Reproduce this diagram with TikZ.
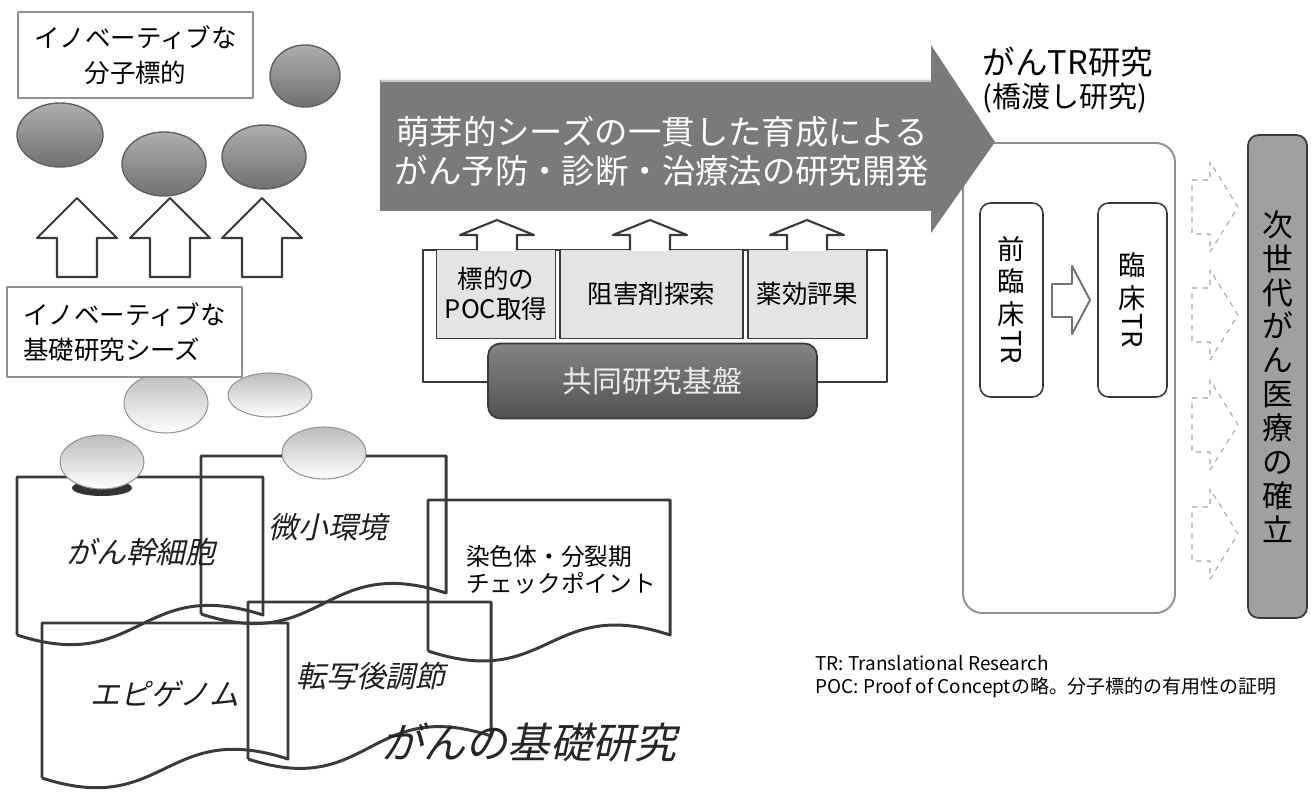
\documentclass[tikz,border=0pt]{standalone}
\usepackage{fontspec}
\setmainfont{Noto Sans CJK JP}
\newfontfamily\jpit{Noto Sans CJK JP}[FakeSlant=0.22]
\usetikzlibrary{arrows.meta,positioning}
\definecolor{InkGray}{RGB}{58,58,58}
\definecolor{RuleGray}{RGB}{145,145,145}
\definecolor{ArrowGray}{RGB}{122,122,122}
\definecolor{PaleGray}{RGB}{228,228,228}
\definecolor{BarGray}{RGB}{160,160,160}

\begin{document}
\begin{tikzpicture}[x=.02cm,y=-.02cm,line join=round,
  seed/.style={draw=black!62,line width=.8pt,top color=black!32,bottom color=black!56},
  bud/.style={draw=black!42,line width=.6pt,top color=black!26,bottom color=white},
  paper/.style={draw=InkGray,line width=1.7pt},
  hollow/.style={draw=InkGray,line width=1.2pt,fill=white},
  tag/.style={draw=RuleGray,line width=1.2pt,fill=white,align=left,inner sep=0pt,font=\fontsize{14.5}{20}\selectfont},
  midbox/.style={draw=InkGray,line width=.8pt,fill=PaleGray,minimum height=1.78cm,inner sep=0pt,align=center,font=\fontsize{14.5}{17}\selectfont},
  trbox/.style={draw=InkGray,line width=.9pt,rounded corners=6pt,minimum height=3.88cm,inner sep=0pt,align=center,font=\fontsize{15.5}{18.5}\selectfont},
  ital/.style={font=\jpit\fontsize{17}{20}\selectfont,text=black!88}]
\useasboundingbox (0,0) rectangle (1311,793);
\foreach \lx/\ty/\rx/\ly/\ry in {17/477/263/635/615,201/456/446/614/593,428/500/670/651/635,248/602/491/759/736,42/623/288/778/759}
  \draw[paper] (\lx,\ly) -- (\lx,\ty) -- (\rx,\ty) -- (\rx,\ry) .. controls ({(\lx+\rx)/2},\ry-40) and ({(\lx+\rx)/2},\ly+40) .. (\lx,\ly);
\fill[black!80] (102,488) ellipse [x radius=30,y radius=8];
\foreach \cx/\cy/\ry in {166/403/30,270/395/22,102/462/27,324/453/26} \draw[bud] (\cx,\cy) ellipse [x radius=42,y radius=\ry];
\node[ital] (stem) at (141,552) {がん幹細胞};\node[ital] (niche) at (328,527) {微小環境};
\node[anchor=west,align=left,font=\fontsize{13.5}{15.5}\selectfont] (mitosis) at (460,570) {染色体・分裂期\\チェックポイント};
\node[ital] (posttx) at (371,676) {転写後調節};\node[ital] (epi) at (165,694) {エピゲノム};
\node[font=\jpit\fontsize{24}{28}\selectfont,text=black!85] (basic) at (529,742) {がんの基礎研究};

\node[tag,align=center,minimum width=4.7cm,minimum height=1.72cm] (targets) at (135.5,55) {イノベーティブな\\分子標的};
\foreach \cx/\cy/\rx/\ry in {305/76/35/31,60/135/43/32,164/164/42/32,264/157/42/32} \draw[seed] (\cx,\cy) ellipse [x radius=\rx,y radius=\ry];
\foreach \cx in {77,170,262} \draw[hollow] (\cx-20,277) -- (\cx-20,238) -- (\cx-40,238) -- (\cx,198) -- (\cx+40,238) -- (\cx+20,238) -- (\cx+20,277) -- cycle;
\node[tag,minimum width=4.7cm,minimum height=1.8cm] (seeds) at (124.5,332) {イノベーティブな\\基礎研究シーズ};

\draw[RuleGray,line width=1.1pt,rounded corners=11pt] (963,143) rectangle (1175,613);
\fill[ArrowGray] (380,80) -- (931,80) -- (931,45) -- (995,142) -- (931,233) -- (931,211) -- (380,211) -- cycle;\draw[white!80!black,line width=1pt] (381,81) -- (931,81);
\node[font=\fontsize{19}{22}\selectfont,text=white,align=center] (flow) at (662,151) {萌芽的シーズの一貫した育成による\\がん予防・診断・治療法の研究開発};
\node[font=\fontsize{18.5}{20}\selectfont] (trtitle) at (1068,62) {がんTR研究};\node[font=\fontsize{16.5}{18}\selectfont] (trsub) at (1065,98) {(橋渡し研究)};

\draw[InkGray,line width=1.6pt] (423,250) rectangle (887,382);
\node[midbox,minimum width=2.38cm] (poc) at (496,294) {標的の\\POC取得};
\node[midbox,minimum width=3.66cm] (inhib) at (651.5,294) {阻害剤探索};
\node[midbox,minimum width=2.38cm] (drug) at (807.5,294) {薬効評果};
\foreach \cx in {497,650,807} {\fill[white] (\cx-20,251) -- (\cx-20,235) -- (\cx-37,235) -- (\cx,220) -- (\cx+37,235) -- (\cx+20,235) -- (\cx+20,251) -- cycle;
  \draw[InkGray,line width=1.2pt] (\cx-20,250.5) -- (\cx-20,235) -- (\cx-37,235) -- (\cx,220) -- (\cx+37,235) -- (\cx+20,235) -- (\cx+20,250.5);}
\node[draw=InkGray,line width=1pt,top color=black!48,bottom color=black!68,rounded corners=7pt,minimum width=6.58cm,minimum height=1.5cm,text=white!92!black,font=\fontsize{17}{20}\selectfont] (base) at (652.5,381) {共同研究基盤};

\node[trbox,minimum width=1.26cm] (pre) at (1011.5,300) {前\\臨\\床\\\rotatebox[origin=c]{-90}{TR}};
\node[trbox,minimum width=1.38cm] (clin) at (1132.5,300) {臨\\床\\\rotatebox[origin=c]{-90}{TR}};
\draw[black!55,line width=1.1pt,fill=white] (1052,284) -- (1072,284) -- (1072,266) -- (1090,300) -- (1072,334) -- (1072,317) -- (1052,317) -- cycle;
\foreach \yt in {180,288,398,507} \draw[black!35,dashed,line width=.6pt] (1192,\yt) -- (1210,\yt) -- (1210,\yt-18) -- (1238,\yt+27) -- (1210,\yt+72) -- (1210,\yt+54) -- (1192,\yt+54) -- cycle;
\node[draw=InkGray,line width=1pt,fill=BarGray,rounded corners=6pt,minimum width=1.18cm,minimum height=9.66cm,inner sep=0pt,align=center,font=\fontsize{17.5}{19.3}\selectfont] (goal) at (1277.5,376.5) {次\\世\\代\\が\\ん\\医\\療\\の\\確\\立};
\node[anchor=west,align=left,inner sep=0pt,font=\fontsize{10.8}{13}\selectfont] (notes) at (815,676.5) {TR: Translational Research\\POC: Proof of Conceptの略。分子標的の有用性の証明};
\end{tikzpicture}
\end{document}
